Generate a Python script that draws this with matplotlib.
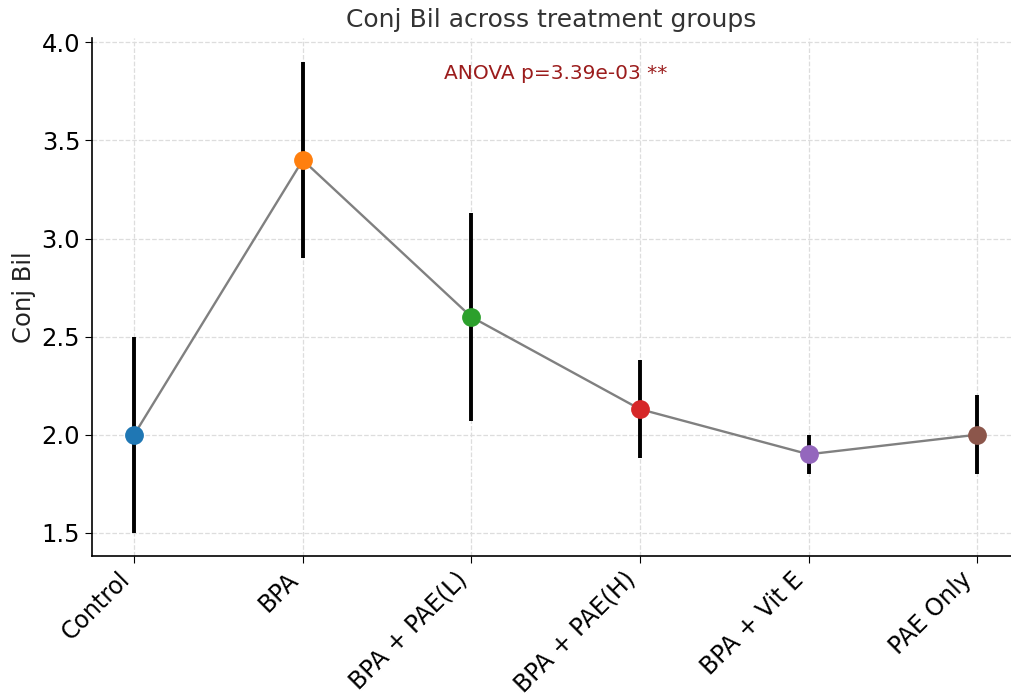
import numpy as np
import matplotlib
matplotlib.use('Agg')
import matplotlib.pyplot as plt

groups = ['Control', 'BPA', 'BPA + PAE(L)', 'BPA + PAE(H)', 'BPA + Vit E', 'PAE Only']
means = [2.0, 3.4, 2.6, 2.13, 1.9, 2.0]
errs = [0.5, 0.5, 0.53, 0.25, 0.1, 0.2]
colors = ['#1f77b4', '#ff7f0e', '#2ca02c', '#d62728', '#9467bd', '#8c564b']
anova_text = 'ANOVA p=3.39e-03 **'

fig = plt.figure(figsize=(10.11, 6.99), dpi=100)
ax = fig.add_axes([0.091, 0.205, 0.909, 0.74])

x = np.arange(len(groups))
ax.plot(x, means, color='grey', linewidth=1.7, zorder=2)
ax.errorbar(x, means, yerr=errs, fmt='none', ecolor='black', elinewidth=2.8, capsize=0, zorder=1)
for xi, m, c in zip(x, means, colors):
    ax.plot(xi, m, 'o', color=c, markersize=12.5, zorder=3)

ax.text(2.5, 3.84, anova_text, ha='center', va='center', color='#9b1c1c', fontsize=14.5)

ax.set_xticks(x)
ax.set_xticklabels(groups, rotation=45, ha='right', fontsize=17)
ax.set_yticks([1.5, 2.0, 2.5, 3.0, 3.5, 4.0])
ax.tick_params(axis='y', labelsize=17.5)
ax.tick_params(axis='both', length=5)
ax.set_xlim(-0.25, 5.2)
ax.set_ylim(1.383, 4.02)
ax.set_ylabel('Conj Bil', fontsize=17.5, color='#222222')
ax.set_title('Conj Bil across treatment groups', fontsize=18, color='#333333', pad=8)

ax.grid(True, linestyle='--', color='#dddddd', linewidth=0.9)
ax.set_axisbelow(True)
ax.spines['top'].set_visible(False)
ax.spines['right'].set_visible(False)
ax.spines['left'].set_linewidth(1.2)
ax.spines['bottom'].set_linewidth(1.2)

fig.savefig('out.png', dpi=100)
